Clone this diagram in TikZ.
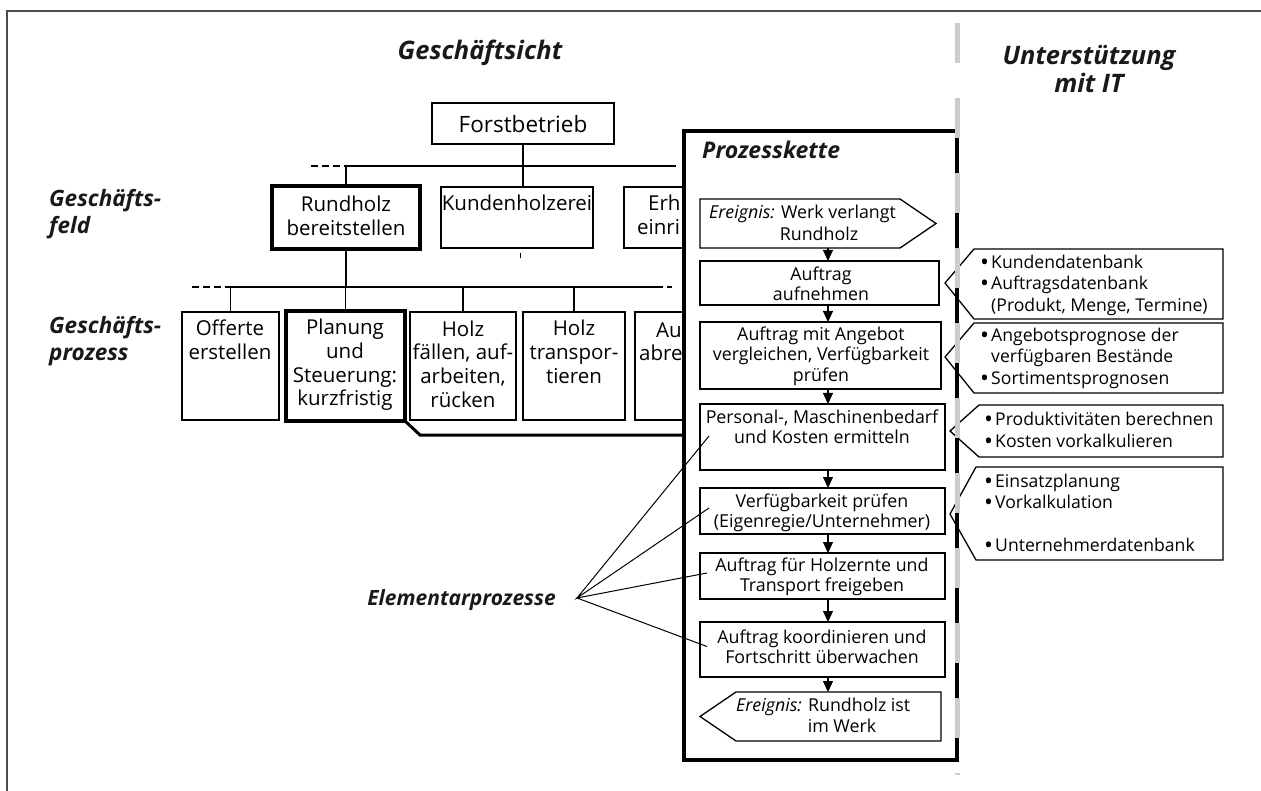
\documentclass[tikz,border=0pt]{standalone}
\usepackage{fontspec}
\setmainfont{Open Sans}
\usetikzlibrary{arrows.meta,calc}
\newcommand\ftree{\fontsize{20.5}{23.7}\selectfont}
\newcommand\fforst{\fontsize{22.5}{27}\selectfont}
\newcommand\fproc{\fontsize{17.8}{20.5}\selectfont}
\newcommand\fcall{\fontsize{17.6}{21.5}\selectfont}
\newcommand\flabel{\fontsize{22.5}{27}\selectfont\bfseries\itshape}
\newcommand\fhead{\fontsize{25.5}{28}\selectfont\bfseries\itshape}
\newcommand\fpk{\fontsize{23}{25}\selectfont\bfseries\itshape}
\newcommand\felem{\fontsize{21}{22}\selectfont\bfseries\itshape}
\newcommand\bul{\makebox[11pt][l]{\raisebox{-2pt}{\scalebox{1.35}{•}}}}
\newcommand\nobul{\hspace*{11pt}}
\begin{document}
\begin{tikzpicture}[x=1pt,y=-1pt,
  box/.style={draw, line width=1.2pt, inner sep=0pt, outer sep=0pt, anchor=north west},
  thickbox/.style={box, line width=3.5pt},
  pbox/.style={box, line width=1.3pt},
  ghost/.style={inner sep=0pt, outer sep=0pt, anchor=north west},
  txt/.style={inner sep=0pt, align=center, text=black, font=\ftree},
  ptxt/.style={inner sep=0pt, align=center, text=black, font=\fproc},
  ctxt/.style={inner sep=0pt, align=left, anchor=west, text=black, font=\fcall},
  lbl/.style={inner sep=0pt, anchor=west, align=left, text=black!90, font=\flabel},
  conn/.style={line width=1.2pt},
  pline/.style={line width=1.3pt, line join=miter},
  flow/.style={line width=1.1pt, -{Triangle[width=10pt,length=11pt]}},
]
\useasboundingbox (0,0) rectangle (1261,791);
% outer frame
\coordinate (fTL) at (7,11);
\coordinate (fTR) at (1261,11);
\coordinate (fBL) at (7,791);
\draw[black!70, line width=1.5pt] (fBL) -- (fTL) -- (fTR);

% headings
\node[inner sep=0pt, font=\fhead, text=black!90] (hgs) at (480,53) {Geschäftsicht};
\node[inner sep=0pt, font=\fhead, text=black!90, align=center] (hit) at (1089,69) {Unterstützung\\mit IT};

% left labels
\node[lbl] (lfeld) at (49,214) {Geschäfts-\\feld};
\node[lbl] (lproz) at (49,341) {Geschäfts-\\prozess};

% tree boxes
\node[box, minimum width=182pt, minimum height=41pt] (forst) at (432,103) {};
\node[thickbox, minimum width=148pt, minimum height=63pt] (rund) at (272,186) {};
\node[box, minimum width=152pt, minimum height=61pt] (kund) at (441,187) {};
\node[box, minimum width=120pt, minimum height=61pt] (erh) at (624,187) {};
\node[box, minimum width=97pt, minimum height=108pt] (off) at (182,312) {};
\node[thickbox, minimum width=119pt, minimum height=110pt] (plan) at (286,311) {};
\node[box, minimum width=106pt, minimum height=108pt] (hfa) at (410,312) {};
\node[box, minimum width=102pt, minimum height=108pt] (htr) at (523,312) {};
\node[box, minimum width=100pt, minimum height=108pt] (aub) at (635,312) {};

% tree connectors
\coordinate (b1d) at (311,166);
\coordinate (b1l) at (347,166);
\coordinate (b1r) at (676,166);
\coordinate (b2d) at (192,287);
\coordinate (b2l) at (229,287);
\coordinate (b2r) at (663,287);
\coordinate (b2a) at (667,287);
\coordinate (b2b) at (672,287);
\draw[conn] (b1l) -- (b1r);
\draw[conn, dash pattern=on 7pt off 4pt] (b1d) -- (b1l);
\draw[conn] (forst.south) -- (forst.south |- kund.north);
\draw[conn] (rund.north) -- (rund.north |- b1l);
\draw[conn] (rund.south) -- (rund.south |- b2l);
\draw[conn] (b2l) -- (b2r);
\draw[conn, dash pattern=on 7pt off 4pt] (b2d) -- (b2l);
\draw[conn] (b2a) -- (b2b);
\draw[conn] (off.north) -- (off.north |- b2l);
\draw[conn] (plan.north) -- (plan.north |- b2l);
\draw[conn] (hfa.north) -- (hfa.north |- b2l);
\draw[conn] (htr.north) -- (htr.north |- b2l);
\draw[line width=1pt] ($(kund.south)+(3,5)$) -- ($(kund.south)+(3,10)$);

% tree texts
\node[txt, font=\fforst] (tforst) at (523,124) {Forstbetrieb};
\node[txt] (trund) at (346,216) {Rundholz\\bereitstellen};
\node[txt] (tkund) at (517,203) {Kundenholzerei};
\node[txt, anchor=west] (terh1) at (648,203) {Erh};
\node[txt, anchor=west] (terh2) at (637,227) {einri};
\node[txt] (toff) at (230,340) {Offerte\\erstellen};
\node[txt] (tplan) at (345,365) {Planung\\und\\Steuerung:\\kurzfristig};
\node[txt] (thfa) at (463,364) {Holz\\fällen, auf-\\arbeiten,\\rücken};
\node[txt] (thtr) at (574,352) {Holz\\transpor-\\tieren};
\node[txt, anchor=west] (tau1) at (656,330) {Au};
\node[txt, anchor=west] (tau2) at (639,353) {abre};

% Prozesskette frame
\node[draw, fill=white, line width=3.5pt, inner sep=0pt, outer sep=0pt, anchor=north west,
      minimum width=273pt, minimum height=629pt] (pk) at (684,131) {};
\node[inner sep=0pt, anchor=west, font=\fpk, text=black!90] (tpk) at (702,150) {Prozesskette};

% connection from Planung to Prozesskette
\coordinate (pc) at (420,435);
\draw[line width=3pt, line join=miter] (plan.south east) -- (pc) -- (pc -| pk.west);

% process steps
\node[ghost, minimum width=200pt, minimum height=49pt] (e1) at (700,199) {};
\draw[pline] (e1.north west) -- (e1.north east) -- ($(e1.east)+(36,0)$) -- (e1.south east) -- (e1.south west) -- cycle;
\node[pbox, minimum width=239pt, minimum height=44pt] (a1) at (700,261) {};
\node[pbox, minimum width=241pt, minimum height=67pt] (a2) at (700,322) {};
\node[pbox, minimum width=245pt, minimum height=66pt] (a3) at (700,404) {};
\node[pbox, minimum width=245pt, minimum height=46pt] (a4) at (700,488) {};
\node[pbox, minimum width=245pt, minimum height=46pt] (a5) at (700,553) {};
\node[pbox, minimum width=245pt, minimum height=55pt] (a6) at (700,622) {};
\node[ghost, minimum width=205pt, minimum height=49pt] (e2) at (736,692) {};
\draw[pline] (e2.north west) -- (e2.north east) -- (e2.south east) -- (e2.south west) -- ($(e2.west)+(-36,0)$) -- cycle;

% flow arrows
\coordinate (ax) at (828,0);
\draw[flow] (e1.south -| ax) -- (a1.north -| ax);
\draw[flow] (a1.south -| ax) -- (a2.north -| ax);
\draw[flow] (a2.south -| ax) -- (a3.north -| ax);
\draw[flow] (a3.south -| ax) -- (a4.north -| ax);
\draw[flow] (a4.south -| ax) -- (a5.north -| ax);
\draw[flow] (a5.south -| ax) -- (a6.north -| ax);
\draw[flow] (a6.south -| ax) -- (e2.north -| ax);

% process texts
\node[ptxt, anchor=west] (te1a) at (709,214) {\textit{Ereignis:} Werk verlangt};
\node[ptxt] (te1b) at (819,234) {Rundholz};
\node[ptxt] (ta1) at (821,284) {Auftrag\\aufnehmen};
\node[ptxt] (ta2) at (821,356) {Auftrag mit Angebot\\vergleichen, Verfügbarkeit\\prüfen};
\node[ptxt] (ta3) at (822,427) {Personal-, Maschinenbedarf\\und Kosten ermitteln};
\node[ptxt] (ta4) at (822,513) {Verfügbarkeit prüfen\\(Eigenregie/Unternehmer)};
\node[ptxt] (ta5) at (822,577) {Auftrag für Holzernte und\\Transport freigeben};
\node[ptxt] (ta6) at (822,647) {Auftrag koordinieren und\\Fortschritt überwachen};
\node[ptxt, anchor=west] (te2a) at (736,707) {\textit{Ereignis:} Rundholz ist};
\node[ptxt] (te2b) at (842,726) {im Werk};

% IT support callouts
\coordinate (c1t) at (945,283); \coordinate (c1a) at (974,249); \coordinate (c1b) at (1223,319);
\draw[pline] (c1t) -- (c1a) -- (c1a -| c1b) -- (c1b) -- (c1b -| c1a) -- cycle;
\node[ctxt] (tc1) at (980,285) {\bul Kundendatenbank\\\bul Auftragsdatenbank\\\nobul(Produkt, Menge, Termine)};

\coordinate (c2t) at (945,357); \coordinate (c2a) at (974,323); \coordinate (c2b) at (1223,393);
\draw[pline] (c2t) -- (c2a) -- (c2a -| c2b) -- (c2b) -- (c2b -| c2a) -- cycle;
\node[ctxt] (tc2) at (980,358) {\bul Angebotsprognose der\\\nobul verfügbaren Bestände\\\bul Sortimentsprognosen};

\coordinate (c3t) at (950,431); \coordinate (c3a) at (979,405); \coordinate (c3b) at (1223,457);
\draw[pline] (c3t) -- (c3a) -- (c3a -| c3b) -- (c3b) -- (c3b -| c3a) -- cycle;
\node[ctxt] (tc3) at (984,431) {\bul Produktivitäten berechnen\\\bul Kosten vorkalkulieren};

\coordinate (c4t) at (950,514); \coordinate (c4a) at (976,467); \coordinate (c4b) at (1223,560);
\draw[pline] (c4t) -- (c4a) -- (c4a -| c4b) -- (c4b) -- (c4b -| c4a) -- cycle;
\node[ctxt] (tc4) at (984,514) {\bul Einsatzplanung\\\bul Vorkalkulation\\\mbox{}\\\bul Unternehmerdatenbank};

% separator between business view and IT
\coordinate (sepT) at (957,23);
\coordinate (sepB) at (957,775);
\draw[black!20, line width=5pt, dash pattern=on 40pt off 35pt] (sepT) -- (sepB);

% Elementarprozesse
\node[inner sep=0pt, anchor=east, font=\felem, text=black!90] (elem) at (556,600) {Elementarprozesse};
\coordinate (ep) at (577,598);
\draw[line width=1pt] ($(a3.west)+(9,-1)$) -- (ep) -- ($(a4.west)+(9,-3)$);
\draw[line width=1pt] ($(a5.west)+(7,-3)$) -- (ep) -- ($(a6.west)+(7,-3)$);
\end{tikzpicture}
\end{document}
